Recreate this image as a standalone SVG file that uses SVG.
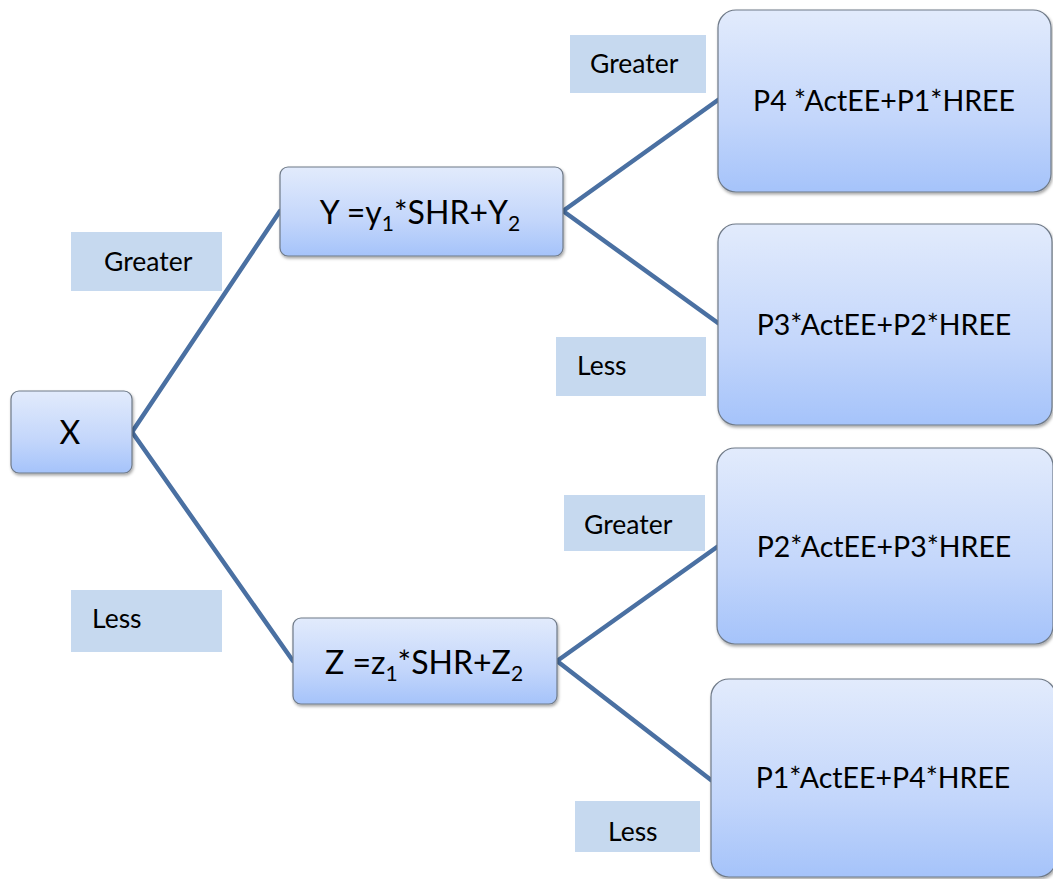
<svg xmlns="http://www.w3.org/2000/svg" width="1053" height="879" viewBox="0 0 1053 879">
  <style>
    .node { fill: url(#boxFill); stroke: #6f7a88; stroke-width: 1.2; filter: url(#shadow); }
    .tag { fill: #c6d9ef; }
    .txt { font-family: Lato, "Open Sans", "Liberation Sans", sans-serif; fill: #000; }
    .lbl { font-size: 26.5px; }
    .big { font-size: 32px; }
    .mid { font-size: 28.5px; }
    .edge { stroke: #4a70a2; stroke-width: 4.5; fill: none; stroke-linecap: round; }
  </style>
  <defs>
    <linearGradient id="boxFill" x1="0" y1="0" x2="0" y2="1">
      <stop offset="0" stop-color="#e2ebfc"/>
      <stop offset="0.6" stop-color="#c3d6fb"/>
      <stop offset="1" stop-color="#a5c3fa"/>
    </linearGradient>
    <filter id="shadow" x="-10%" y="-10%" width="130%" height="130%">
      <feDropShadow dx="1" dy="2" stdDeviation="1.5" flood-color="#000" flood-opacity="0.35"/>
    </filter>
  </defs>
  <rect width="1053" height="879" fill="#fff"/>

  <!-- branch labels -->
  <g id="labels">
    <rect class="tag" x="71" y="232" width="151" height="59"/>
    <text class="txt lbl" x="104" y="271">Greater</text>
    <rect class="tag" x="71" y="590" width="151" height="62"/>
    <text class="txt lbl" x="92" y="628">Less</text>
    <rect class="tag" x="570" y="35" width="136" height="58"/>
    <text class="txt lbl" x="590" y="73">Greater</text>
    <rect class="tag" x="556" y="337" width="150" height="59"/>
    <text class="txt lbl" x="577" y="375">Less</text>
    <rect class="tag" x="564" y="495" width="141" height="56"/>
    <text class="txt lbl" x="584" y="534">Greater</text>
    <rect class="tag" x="575" y="801" width="125" height="51"/>
    <text class="txt lbl" x="608" y="841">Less</text>
  </g>

  <!-- connectors -->
  <g id="connectors">
    <line class="edge" x1="132" y1="432" x2="280" y2="211"/>
    <line class="edge" x1="132" y1="432" x2="293" y2="661"/>
    <line class="edge" x1="563" y1="211" x2="718" y2="100"/>
    <line class="edge" x1="563" y1="211" x2="718" y2="323"/>
    <line class="edge" x1="557" y1="661" x2="717" y2="547"/>
    <line class="edge" x1="557" y1="661" x2="711" y2="780"/>
  </g>

  <g id="node-x">
    <rect class="node" x="11" y="391" width="121" height="82" rx="8"/>
    <text class="txt big" x="70" y="444" text-anchor="middle">X</text>
  </g>

  <g id="node-y">
    <rect class="node" x="280" y="167" width="283" height="89" rx="8"/>
    <text class="txt big" x="420" y="224" text-anchor="middle">Y =y<tspan font-size="21" dy="7">1</tspan><tspan dy="-7">*SHR+Y</tspan><tspan font-size="21" dy="7">2</tspan></text>
  </g>

  <g id="node-z">
    <rect class="node" x="293" y="618" width="264" height="86" rx="8"/>
    <text class="txt big" x="424" y="674" text-anchor="middle">Z =z<tspan font-size="21" dy="7">1</tspan><tspan dy="-7">*SHR+Z</tspan><tspan font-size="21" dy="7">2</tspan></text>
  </g>

  <g id="node-p4p1">
    <rect class="node" x="718" y="10" width="333" height="182" rx="18"/>
    <text class="txt mid" x="884" y="111" text-anchor="middle">P4 *ActEE+P1*HREE</text>
  </g>

  <g id="node-p3p2">
    <rect class="node" x="718" y="224" width="334" height="201" rx="18"/>
    <text class="txt mid" x="884" y="335" text-anchor="middle">P3*ActEE+P2*HREE</text>
  </g>

  <g id="node-p2p3">
    <rect class="node" x="717" y="448" width="336" height="196" rx="18"/>
    <text class="txt mid" x="884" y="557" text-anchor="middle">P2*ActEE+P3*HREE</text>
  </g>

  <g id="node-p1p4">
    <rect class="node" x="711" y="679" width="345" height="198" rx="18"/>
    <text class="txt mid" x="883" y="788" text-anchor="middle">P1*ActEE+P4*HREE</text>
  </g>
</svg>
